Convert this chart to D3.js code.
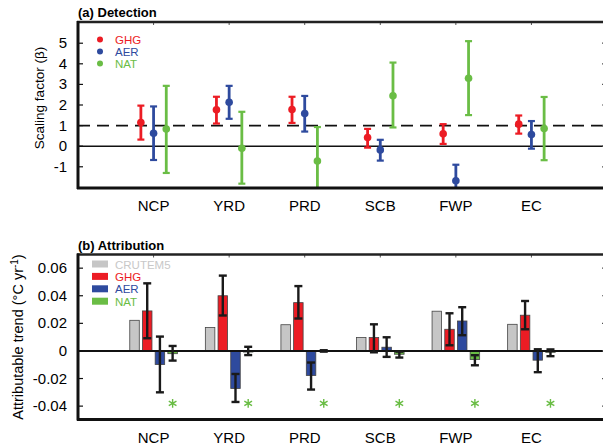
<!DOCTYPE html>
<html>
<head>
<meta charset="utf-8">
<script src="https://cdn.jsdelivr.net/npm/d3@7"></script>
<style>
body { margin: 0; background: #fff; }
svg text { font-family: "Liberation Sans", Arial, sans-serif; }
</style>
</head>
<body>
<div id="chart"></div>
<script>
// data
var regions = ["NCP", "YRD", "PRD", "SCB", "FWP", "EC"];

// (a) scaling factors: best estimate, upper, lower
var ghgBeta = [1.15, 1.77, 1.78, 0.42, 0.60, 1.07];
var ghgHi   = [1.97, 2.40, 2.40, 0.84, 1.07, 1.49];
var ghgLo   = [0.32, 1.10, 1.13, -0.07, 0.11, 0.61];
var aerBeta = [0.63, 2.13, 1.59, -0.18, -1.68, 0.57];
var aerHi   = [1.93, 2.93, 2.44, 0.31, -0.90, 1.22];
var aerLo   = [-0.67, 1.33, 0.71, -0.70, -2.20, -0.12];
var natBeta = [0.83, -0.10, -0.72, 2.45, 3.30, 0.86];
var natHi   = [2.93, 1.67, 0.93, 4.06, 5.10, 2.39];
var natLo   = [-1.30, -1.82, -2.20, 0.91, 1.51, -0.68];

// (b) attributable trends (degC / yr)
var crutem = [0.0222, 0.0170, 0.0190, 0.0097, 0.0288, 0.0193];
var ghgTr   = [0.0290, 0.0400, 0.0350, 0.0097, 0.0157, 0.0259];
var ghgTrHi = [0.0490, 0.0546, 0.0470, 0.0193, 0.0273, 0.0362];
var ghgTrLo = [0.0092, 0.0257, 0.0235, -0.0010, 0.0041, 0.0157];
var aerTr   = [-0.0099, -0.0273, -0.0178, 0.0027, 0.0217, -0.0067];
var aerTrHi = [0.0104, -0.0167, -0.0084, 0.0099, 0.0317, 0.0012];
var aerTrLo = [-0.0300, -0.0370, -0.0280, -0.0043, 0.0114, -0.0154];
var natTr   = [-0.0020, -0.0008, 0.0000, -0.0024, -0.0062, -0.0010];
var natTrHi = [0.0036, 0.0030, 0.0005, -0.0005, -0.0031, 0.0011];
var natTrLo = [-0.0070, -0.0030, -0.0005, -0.0048, -0.0104, -0.0038];
var starLevel = -0.038;

var yTicksA = [-1, 0, 1, 2, 3, 4, 5];
var yTicksB = [-0.04, -0.02, 0, 0.02, 0.04, 0.06];
var yTickLabelsB = ["-0.04", "-0.02", "0", "0.02", "0.04", "0.06"];

var red = "#ec1c24", blue = "#2e4a9e", green = "#6abd45", grey = "#c6c6c6";

var svg = d3.select("#chart").append("svg")
	.attr("width", 603).attr("height", 447);

var x = d3.scaleLinear().domain([0, 7]).range([78, 607]);

function frame(g, y, top, bottom, ticks, labels) {
	// ticks on left and right (inward), category ticks on top
	ticks.forEach(function (t, i) {
		g.append("line").attr("x1", 78).attr("x2", 83).attr("y1", y(t)).attr("y2", y(t))
			.attr("stroke", "#111").attr("stroke-width", 1.2);
		g.append("line").attr("x1", 602).attr("x2", 607).attr("y1", y(t)).attr("y2", y(t))
			.attr("stroke", "#555").attr("stroke-width", 1.2);
		g.append("text").attr("x", 67).attr("y", y(t) + 5)
			.attr("text-anchor", "end").attr("font-size", 15).text(labels[i]);
	});
	regions.forEach(function (r, i) {
		g.append("line").attr("x1", x(i + 1)).attr("x2", x(i + 1)).attr("y1", top).attr("y2", top + 3)
			.attr("stroke", "#555").attr("stroke-width", 1);
		g.append("text").attr("x", x(i + 1)).attr("y", bottom + 23)
			.attr("text-anchor", "middle").attr("font-size", 15).text(r);
	});
	g.append("line").attr("x1", 77).attr("x2", 610).attr("y1", top).attr("y2", top)
		.attr("stroke", "#222").attr("stroke-width", 2.5);
	g.append("line").attr("x1", 77).attr("x2", 610).attr("y1", bottom).attr("y2", bottom)
		.attr("stroke", "#111").attr("stroke-width", 3);
	g.append("line").attr("x1", 78).attr("x2", 78).attr("y1", top - 1).attr("y2", bottom + 1)
		.attr("stroke", "#111").attr("stroke-width", 3);
}

// ---------- panel (a) ----------
var topA = 22, botA = 188;
var yA = d3.scaleLinear().domain([-2.03, 6.03]).range([botA, topA]);
var gA = svg.append("g");

svg.append("clipPath").attr("id", "clipA").append("rect")
	.attr("x", 78).attr("y", topA).attr("width", 530).attr("height", botA - topA);

gA.append("line").attr("x1", 78).attr("x2", 607).attr("y1", yA(1)).attr("y2", yA(1))
	.attr("stroke", "#111").attr("stroke-width", 1.6).attr("stroke-dasharray", "12,7");
gA.append("line").attr("x1", 78).attr("x2", 607).attr("y1", yA(0)).attr("y2", yA(0))
	.attr("stroke", "#111").attr("stroke-width", 1.6);

var seriesA = [
	{ name: "GHG", color: red, off: -0.168, v: ghgBeta, hi: ghgHi, lo: ghgLo },
	{ name: "AER", color: blue, off: 0, v: aerBeta, hi: aerHi, lo: aerLo },
	{ name: "NAT", color: green, off: 0.168, v: natBeta, hi: natHi, lo: natLo }
];

var marks = gA.append("g").attr("clip-path", "url(#clipA)");
seriesA.forEach(function (s) {
	regions.forEach(function (r, i) {
		var cx = x(i + 1 + s.off);
		marks.append("line").attr("x1", cx).attr("x2", cx)
			.attr("y1", yA(s.hi[i])).attr("y2", yA(s.lo[i]))
			.attr("stroke", s.color).attr("stroke-width", 2.8);
		[s.hi[i], s.lo[i]].forEach(function (e) {
			marks.append("line").attr("x1", cx - 3.5).attr("x2", cx + 3.5)
				.attr("y1", yA(e)).attr("y2", yA(e))
				.attr("stroke", s.color).attr("stroke-width", 2.2);
		});
		marks.append("circle").attr("cx", cx).attr("cy", yA(s.v[i])).attr("r", 3.8)
			.attr("fill", s.color);
	});
});

seriesA.forEach(function (s, k) {
	gA.append("circle").attr("cx", 100).attr("cy", 39.5 + k * 12).attr("r", 3).attr("fill", s.color);
	gA.append("text").attr("x", 115).attr("y", 43.5 + k * 12).attr("font-size", 11.5)
		.attr("fill", s.color).text(s.name);
});

frame(gA, yA, topA, botA, yTicksA, yTicksA.map(String));

gA.append("text").attr("x", 78).attr("y", 17).attr("font-size", 13)
	.attr("font-weight", "bold").text("(a) Detection");
gA.append("text").attr("transform", "translate(44,98) rotate(-90)")
	.attr("text-anchor", "middle").attr("font-size", 13.5).text("Scaling factor (β)");

// ---------- panel (b) ----------
var topB = 254.5, botB = 419.5;
var yB = d3.scaleLinear().domain([-0.0497, 0.0699]).range([botB, topB]);
var gB = svg.append("g");

var bw = 9.5;
var seriesB = [
	{ name: "CRUTEM5", color: grey, text: "#c8c8c8", off: -0.252, v: crutem },
	{ name: "GHG", color: red, text: red, off: -0.084, v: ghgTr, hi: ghgTrHi, lo: ghgTrLo },
	{ name: "AER", color: blue, text: blue, off: 0.084, v: aerTr, hi: aerTrHi, lo: aerTrLo },
	{ name: "NAT", color: green, text: green, off: 0.252, v: natTr, hi: natTrHi, lo: natTrLo }
];

seriesB.forEach(function (s) {
	gB.selectAll(null).data(s.v).enter().append("rect")
		.attr("x", function (d, i) { return x(i + 1 + s.off) - bw / 2; })
		.attr("y", function (d) { return Math.min(yB(d), yB(0)); })
		.attr("width", bw)
		.attr("height", function (d) { return Math.abs(yB(d) - yB(0)); })
		.attr("fill", s.color).attr("stroke", "#444").attr("stroke-width", 0.8);
});

gB.append("line").attr("x1", 78).attr("x2", 607).attr("y1", yB(0)).attr("y2", yB(0))
	.attr("stroke", "#111").attr("stroke-width", 2);

seriesB.slice(1).forEach(function (s) {
	regions.forEach(function (r, i) {
		var cx = x(i + 1 + s.off);
		gB.append("line").attr("x1", cx).attr("x2", cx)
			.attr("y1", yB(s.hi[i])).attr("y2", yB(s.lo[i]))
			.attr("stroke", "#1a1a1a").attr("stroke-width", 2.4);
		[s.hi[i], s.lo[i]].forEach(function (e) {
			gB.append("line").attr("x1", cx - 4).attr("x2", cx + 4)
				.attr("y1", yB(e)).attr("y2", yB(e))
				.attr("stroke", "#1a1a1a").attr("stroke-width", 2.4);
		});
	});
});

// asterisks under NAT
var star = d3.symbol().type(d3.symbolAsterisk).size(55);
regions.forEach(function (r, i) {
	gB.append("path").attr("d", star())
		.attr("transform", "translate(" + x(i + 1 + 0.252) + "," + yB(starLevel) + ")")
		.attr("fill", "none").attr("stroke", green).attr("stroke-width", 1.4);
});

seriesB.forEach(function (s, k) {
	gB.append("rect").attr("x", 92).attr("y", 260.5 + k * 12.4).attr("width", 16).attr("height", 7)
		.attr("fill", s.color);
	gB.append("text").attr("x", 115).attr("y", 268.5 + k * 12.4).attr("font-size", 11.5)
		.attr("fill", s.text).text(s.name);
});

frame(gB, yB, topB, botB, yTicksB, yTickLabelsB);

gB.append("text").attr("x", 78).attr("y", 250).attr("font-size", 13)
	.attr("font-weight", "bold").text("(b) Attribution");
var yt = gB.append("text").attr("transform", "translate(23,337) rotate(-90)")
	.attr("text-anchor", "middle").attr("font-size", 14.5);
yt.append("tspan").text("Attributable trend (°C yr");
yt.append("tspan").attr("dy", -5).attr("font-size", 10).text("-1");
yt.append("tspan").attr("dy", 5).text(")");
</script>
</body>
</html>
